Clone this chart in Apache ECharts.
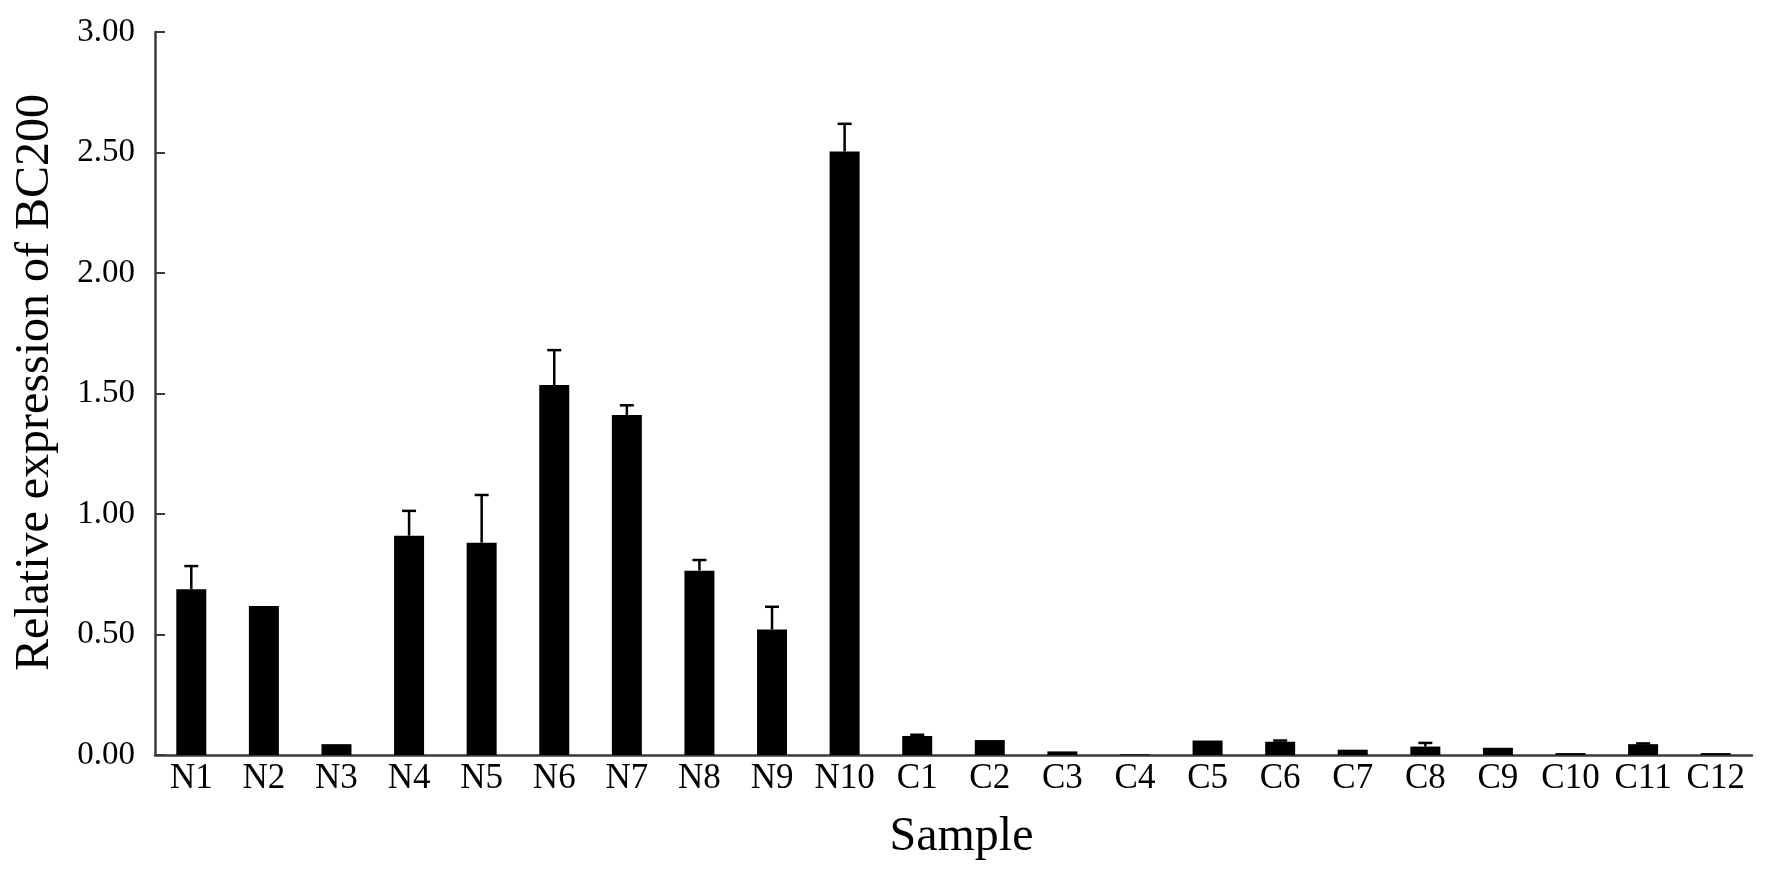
<!DOCTYPE html>
<html>
<head>
<meta charset="utf-8">
<script src="https://cdn.jsdelivr.net/npm/echarts@6/dist/echarts.min.js"></script>
<style>
  html, body { margin: 0; padding: 0; background: #fff; }
  #chart { width: 1772px; height: 881px; }
</style>
</head>
<body>
<div id="chart"></div>
<script>
const samples = ['N1', 'N2', 'N3', 'N4', 'N5', 'N6', 'N7', 'N8', 'N9', 'N10',
  'C1', 'C2', 'C3', 'C4', 'C5', 'C6', 'C7', 'C8', 'C9', 'C10', 'C11', 'C12'];
const expression = [0.688, 0.618, 0.045, 0.91, 0.881, 1.535, 1.411, 0.765, 0.521, 2.504,
  0.079, 0.062, 0.015, 0.003, 0.06, 0.055, 0.022, 0.035, 0.03, 0.008, 0.045, 0.008];
const errors = [0.096, 0, 0, 0.103, 0.198, 0.145, 0.04, 0.044, 0.094, 0.115,
  0.005, 0, 0, 0, 0, 0.005, 0, 0.015, 0, 0, 0.003, 0];

const serif = 'Liberation Serif';
const axisColor = '#3a3a3a';

const errData = samples.map((s, i) => [i, expression[i], expression[i] + errors[i]]);

const chart = echarts.init(document.getElementById('chart'));
chart.setOption({
  animation: false,
  grid: { left: 155, right: 20, top: 32, bottom: 126 },
  xAxis: {
    type: 'category',
    data: samples,
    name: 'Sample',
    nameLocation: 'middle',
    nameGap: 58,
    nameTextStyle: { fontFamily: serif, fontSize: 48, color: '#000', padding: [0, 0, 0, 16] },
    axisLine: { lineStyle: { color: axisColor, width: 2.5 } },
    axisTick: { inside: true, length: 9, lineStyle: { color: axisColor, width: 2 } },
    axisLabel: { interval: 0, fontFamily: serif, fontSize: 35, color: '#000', margin: 6 }
  },
  yAxis: {
    type: 'value',
    min: 0,
    max: 3,
    interval: 0.5,
    name: 'Relative expression of BC200',
    nameLocation: 'middle',
    nameRotate: 90,
    nameGap: 96,
    nameTextStyle: { fontFamily: serif, fontSize: 48, color: '#000', padding: [0, 0, 0, 22] },
    axisLine: { show: true, lineStyle: { color: axisColor, width: 2.5 } },
    axisTick: { show: true, inside: true, length: 10, lineStyle: { color: axisColor, width: 2 } },
    splitLine: { show: false },
    axisLabel: {
      fontFamily: serif, fontSize: 33, color: '#000', margin: 20,
      formatter: v => v.toFixed(2)
    }
  },
  series: [
    {
      type: 'bar',
      data: expression,
      barWidth: 30,
      itemStyle: { color: '#000' }
    },
    {
      type: 'custom',
      data: errData,
      z: 1,
      renderItem: (params, api) => {
        const i = api.value(0);
        if (api.value(2) <= api.value(1)) return null;
        const base = api.coord([i, api.value(1)]);
        const top = api.coord([i, api.value(2)]);
        const cap = 7;
        const style = { stroke: '#000', lineWidth: 2.5 };
        return {
          type: 'group',
          children: [
            { type: 'line', shape: { x1: base[0], y1: base[1], x2: top[0], y2: top[1] }, style },
            { type: 'line', shape: { x1: top[0] - cap, y1: top[1], x2: top[0] + cap, y2: top[1] }, style }
          ]
        };
      }
    }
  ]
});
</script>
</body>
</html>
